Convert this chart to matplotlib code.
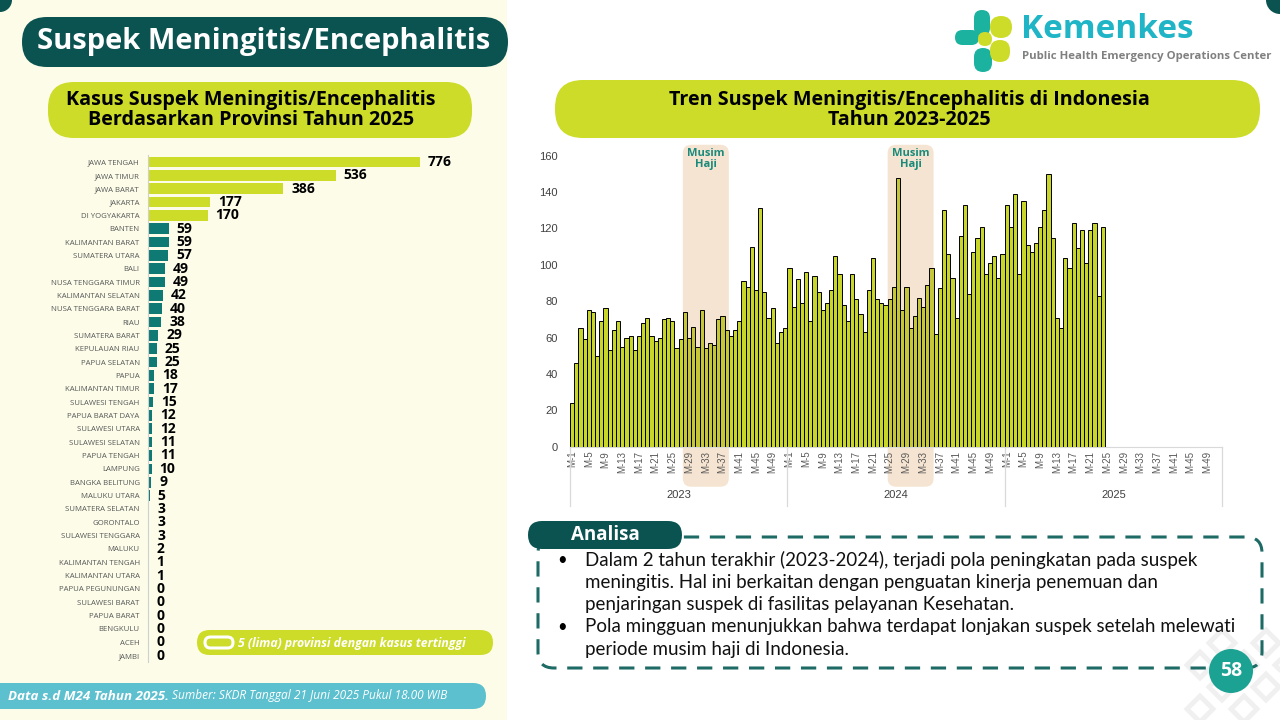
import matplotlib
matplotlib.use('Agg')
import matplotlib.pyplot as plt
import matplotlib.transforms as mtransforms
from matplotlib.patches import FancyBboxPatch, Circle, Rectangle, RegularPolygon
import numpy as np

plt.rcParams['font.family'] = ['Open Sans', 'DejaVu Sans']

# ===== data =====
provinces = ['JAWA TENGAH', 'JAWA TIMUR', 'JAWA BARAT', 'JAKARTA', 'DI YOGYAKARTA',
             'BANTEN', 'KALIMANTAN BARAT', 'SUMATERA UTARA', 'BALI', 'NUSA TENGGARA TIMUR',
             'KALIMANTAN SELATAN', 'NUSA TENGGARA BARAT', 'RIAU', 'SUMATERA BARAT',
             'KEPULAUAN RIAU', 'PAPUA SELATAN', 'PAPUA', 'KALIMANTAN TIMUR', 'SULAWESI TENGAH',
             'PAPUA BARAT DAYA', 'SULAWESI UTARA', 'SULAWESI SELATAN', 'PAPUA TENGAH',
             'LAMPUNG', 'BANGKA BELITUNG', 'MALUKU UTARA', 'SUMATERA SELATAN', 'GORONTALO',
             'SULAWESI TENGGARA', 'MALUKU', 'KALIMANTAN TENGAH', 'KALIMANTAN UTARA',
             'PAPUA PEGUNUNGAN', 'SULAWESI BARAT', 'PAPUA BARAT', 'BENGKULU', 'ACEH', 'JAMBI']
cases = [776, 536, 386, 177, 170, 59, 59, 57, 49, 49, 42, 40, 38, 29, 25, 25, 18, 17, 15,
         12, 12, 11, 11, 10, 9, 5, 3, 3, 3, 2, 1, 1, 0, 0, 0, 0, 0, 0]
n_top = 5

years = ['2023', '2024', '2025']
weeks_2023 = [24, 46, 65, 59, 75, 74, 50, 69, 76, 53, 64, 69, 55, 60, 61, 53, 61, 68, 71, 61,
              58, 60, 70, 71, 69, 54, 59, 74, 60, 66, 55, 75, 54, 57, 56, 70, 72, 64, 61, 64,
              69, 91, 88, 110, 86, 131, 85, 71, 76, 57, 63, 65]
weeks_2024 = [98, 77, 92, 79, 96, 69, 94, 85, 75, 79, 86, 105, 95, 78, 69, 95, 81, 73, 63, 86,
              104, 81, 79, 78, 81, 88, 148, 75, 88, 65, 72, 82, 77, 89, 98, 62, 87, 130, 106, 93,
              71, 116, 133, 84, 107, 115, 121, 95, 101, 105, 93, 106]
weeks_2025 = [133, 121, 139, 95, 135, 111, 107, 112, 121, 130, 150, 115, 71, 65, 104, 98, 123,
              109, 119, 101, 119, 123, 83, 121]
weeks_per_year = 52
# musim haji: (year, first week, last week)
haji = [('2023', 28, 38), ('2024', 25, 35)]

# ===== style =====
W, H = 1280, 720
CREAM = '#FCFCE9'
DARK_TEAL = '#0B5350'
LIME = '#CDDC29'
TEAL_BAR = '#0F7A73'
BAR_GREEN = '#C8D62B'
BAR_HAJI = '#C6C63A'
SHADE = '#F5E4D1'


def rect(x0, y0, x1, y1):
    return [x0 / W, 1 - y1 / H, (x1 - x0) / W, (y1 - y0) / H]


fig = plt.figure(figsize=(12.8, 7.2), dpi=100)
bg = fig.add_axes([0, 0, 1, 1], zorder=0)
bg.set_xlim(0, W)
bg.set_ylim(H, 0)
bg.axis('off')


def pill(x0, y0, x1, y1, color, r=None, **kw):
    r = (y1 - y0) / 2 if r is None else r
    p = FancyBboxPatch((x0, y0), x1 - x0, y1 - y0,
                       boxstyle=f"round,pad=0,rounding_size={r}", fc=color, ec='none', **kw)
    bg.add_patch(p)
    return p


# background panels
bg.add_patch(Rectangle((0, 0), 507, H, fc=CREAM, ec='none'))
bg.add_patch(Circle((0, 0), 12, fc=DARK_TEAL, ec='none'))
bg.add_patch(Circle((W, 0), 14, fc=DARK_TEAL, ec='none'))
# faint decoration bottom right
for cx, cy in [(1200, 665), (1222, 643), (1244, 665), (1266, 643), (1222, 687), (1266, 687),
               (1200, 709), (1244, 709), (1288, 665)]:
    bg.add_patch(RegularPolygon((cx, cy), 4, radius=13, orientation=0,
                                fc='none', ec='#F0F0F0', lw=3.5))

# titles
pill(22, 17, 508, 67, DARK_TEAL)
bg.text(264, 42, 'Suspek Meningitis/Encephalitis', color='white', fontsize=21,
        fontweight='bold', ha='center', va='center')
pill(48, 82, 472, 138, LIME, r=26)
bg.text(251, 110, 'Kasus Suspek Meningitis/Encephalitis\nBerdasarkan Provinsi Tahun 2025',
        fontsize=14.2, fontweight='bold', ha='center', va='center', linespacing=1.05)
pill(555, 80, 1260, 138, LIME, r=28)
bg.text(909, 110, 'Tren Suspek Meningitis/Encephalitis di Indonesia\nTahun 2023-2025',
        fontsize=14.2, fontweight='bold', ha='center', va='center', linespacing=1.05)

# logo
for (x, y, w, h, c) in [(955, 30, 24, 15, '#1BB3A0'), (974, 10, 16, 26, '#1BB3A0'),
                         (974, 48, 18, 24, '#1BB3A0'), (990, 16, 22, 22, LIME),
                         (990, 40, 20, 22, LIME), (978, 32, 14, 14, LIME)]:
    pill(x, y, x + w, y + h, c, r=min(w, h) / 2)
bg.text(1021, 29, 'Kemenkes', color='#1FB5C6', fontsize=24, fontweight='bold', va='center')
bg.text(1022, 56, 'Public Health Emergency Operations Center', color='#808080',
        fontsize=8.2, fontweight='bold', va='center')

# ===== left chart: provinces =====
ax1 = fig.add_axes(rect(148, 155.3, 498, 662.3), zorder=1)
ax1.set_facecolor('none')
ypos = np.arange(len(provinces))
bar_colors = [LIME if i < n_top else TEAL_BAR for i in range(len(provinces))]
ax1.barh(ypos, cases, height=0.8, color=bar_colors)
ax1.set_xlim(0, 1000)
ax1.set_ylim(len(provinces) - 0.5, -0.5)
ax1.set_yticks(ypos)
ax1.set_yticklabels(provinces, fontsize=5.6, color='#595959')
ax1.set_xticks([])
ax1.tick_params(axis='y', length=0, pad=6)
for s in ['top', 'right', 'bottom']:
    ax1.spines[s].set_visible(False)
ax1.spines['left'].set_color('#D0D0D0')
ax1.spines['left'].set_linewidth(0.8)
for y, v in zip(ypos, cases):
    ax1.text(v + 23, y, str(v), va='center', ha='left', fontsize=10, fontweight='bold')

# legend pill
pill(197, 630, 493, 655, LIME)
icon = pill(205, 637, 233, 648, 'none')
icon.set_edgecolor('white')
icon.set_linewidth(2.2)
bg.text(238, 643, '5 (lima) provinsi dengan kasus tertinggi', color='white', fontsize=8.8,
        fontweight='bold', fontstyle='italic', va='center')

# footer
pill(-20, 683, 486, 709, '#5CC0CF')
bg.text(8, 696, 'Data s.d M24 Tahun 2025.', color='white', fontsize=9.6, fontweight='bold',
        fontstyle='italic', va='center')
bg.text(172, 696, 'Sumber: SKDR Tanggal 21 Juni 2025 Pukul 18.00 WIB', color='white',
        fontsize=8.6, fontstyle='italic', va='center')

# ===== right chart: weekly trend =====
ax2 = fig.add_axes(rect(570, 155.7, 1222, 446.7), zorder=1)
ax2.set_facecolor('none')
trans = mtransforms.blended_transform_factory(ax2.transData, ax2.transAxes)

# musim haji shading (behind bars)
haji_idx = set()
for yr, w0, w1 in haji:
    k = years.index(yr)
    x0 = k * weeks_per_year + w0 - 1.5
    x1 = k * weeks_per_year + w1 - 0.5
    haji_idx.update(range(k * weeks_per_year + w0 - 1, k * weeks_per_year + w1))
    shade = FancyBboxPatch((x0, -22), x1 - x0, 188, boxstyle="round,pad=0,rounding_size=2",
                           mutation_aspect=2.3, fc=SHADE, ec='none',
                           zorder=0.5, clip_on=False)
    ax2.add_patch(shade)
    ax2.text((x0 + x1) / 2, 158, 'Musim\nHaji', ha='center', va='center', fontsize=8,
             fontweight='bold', color='#1A8A7A', linespacing=1.0, zorder=4, clip_on=False)

all_weeks = [weeks_2023, weeks_2024, weeks_2025]
for k, vals in enumerate(all_weeks):
    xs = k * weeks_per_year + np.arange(len(vals))
    cols = [BAR_HAJI if x in haji_idx else BAR_GREEN for x in xs]
    ax2.bar(xs, vals, width=1.0, color=cols, edgecolor='black', linewidth=0.7, zorder=2)
ax2.set_xlim(-0.5, len(years) * weeks_per_year - 0.5)
ax2.set_ylim(0, 160)
ax2.set_yticks(np.arange(0, 161, 20))
ax2.tick_params(axis='y', length=0, pad=9, labelsize=8, labelcolor='#404040')
for lab in ax2.get_yticklabels():
    lab.set_fontfamily('Liberation Sans')
xt = [k * weeks_per_year + w - 1 for k in range(len(years)) for w in range(1, 53, 4)]
xl = [f'M-{w}' for k in range(len(years)) for w in range(1, 53, 4)]
ax2.set_xticks(xt)
ax2.set_xticklabels(xl, rotation=90, fontsize=7, color='#595959', family='Liberation Sans')
ax2.tick_params(axis='x', length=0, pad=3)
for s in ['top', 'right', 'left']:
    ax2.spines[s].set_visible(False)
ax2.spines['bottom'].set_color('#D9D9D9')
ax2.spines['bottom'].set_zorder(1)

for k in range(len(years) + 1):
    xb = k * weeks_per_year - 0.5
    ax2.plot([xb, xb], [0, -0.205], color='#D9D9D9', lw=0.9, transform=trans, clip_on=False)
for k, yr in enumerate(years):
    ax2.text(k * weeks_per_year + weeks_per_year / 2 - 0.5, -0.167, yr, transform=trans,
             ha='center', va='center', fontsize=8, color='#404040', family='Liberation Sans')

# ===== analisa box =====
box = FancyBboxPatch((538, 537), 724, 131, boxstyle="round,pad=0,rounding_size=16",
                     fc='none', ec='#1E6B66', lw=2.2, linestyle=(0, (5, 3.5)))
bg.add_patch(box)
pill(528, 521, 682, 549, DARK_TEAL)
bg.text(605, 535, 'Analisa', color='white', fontsize=13.5, fontweight='bold',
        ha='center', va='center')
lines = [('•', 'Dalam 2 tahun terakhir (2023-2024), terjadi pola peningkatan pada suspek'),
         ('', 'meningitis. Hal ini berkaitan dengan penguatan kinerja penemuan dan'),
         ('', 'penjaringan suspek di fasilitas pelayanan Kesehatan.'),
         ('•', 'Pola mingguan menunjukkan bahwa terdapat lonjakan suspek setelah melewati'),
         ('', 'periode musim haji di Indonesia.')]
for i, (b, t) in enumerate(lines):
    y = 560 + i * 22.3
    if b:
        bg.text(557, y, b, fontsize=12, va='center', family='Lato')
    bg.text(585, y, t, fontsize=13.5, va='center', family='Lato', color='#111111')

# page number
bg.add_patch(Circle((1231, 671), 22, fc='#1CA293', ec='none', zorder=5))
bg.text(1231, 671, '58', color='white', fontsize=14, fontweight='bold', ha='center',
        va='center', zorder=6)

fig.savefig('out.png', dpi=100)
